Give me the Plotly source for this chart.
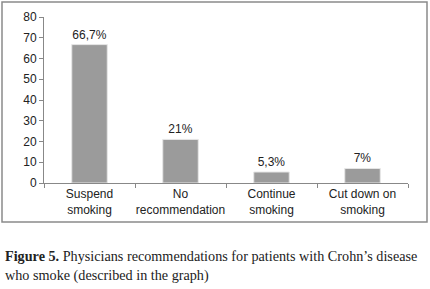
import plotly.graph_objects as go

categories = ["Suspend<br>smoking", "No<br>recommendation", "Continue<br>smoking", "Cut down on<br>smoking"]
values = [66.7, 21, 5.3, 7]
value_labels = ["66,7%", "21%", "5,3%", "7%"]
y_ticks = [0, 10, 20, 30, 40, 50, 60, 70, 80]

W, H = 430, 289
L, R, T, B = 44, 22, 17, 106
pw, ph = W - L - R, H - T - B

def px(x):
    return (x - L) / pw

def py(y):
    return (H - B - y) / ph

fig = go.Figure(go.Bar(
    x=categories, y=values, text=value_labels, textposition="outside",
    textfont=dict(family="Liberation Sans, Arial", size=12, color="#222"),
    marker=dict(color="#9b9b9b", line=dict(color="#e6e6e6", width=1)),
    width=0.39, cliponaxis=False,
))

fig.update_layout(
    width=W, height=H, margin=dict(l=L, r=R, t=T, b=B, autoexpand=False),
    paper_bgcolor="white", plot_bgcolor="white", showlegend=False,
    font=dict(family="Liberation Sans, Arial", size=12, color="#222"),
    xaxis=dict(showgrid=False, showline=True, linecolor="#888", linewidth=1,
               ticks="outside", tickson="boundaries", ticklen=4, tickcolor="#888",
               tickangle=0, automargin=False,
               tickfont=dict(size=12, color="#222")),
    yaxis=dict(range=[0, 80], tickvals=y_ticks, showgrid=False, zeroline=False,
               showline=True, linecolor="#888", linewidth=1, automargin=False,
               ticks="outside", ticklen=4, tickcolor="#888",
               tickfont=dict(size=12, color="#222")),
    shapes=[dict(type="rect", xref="paper", yref="paper",
                 x0=px(2), x1=px(427), y0=py(2), y1=py(222),
                 line=dict(color="#8a8a8a", width=1.5), layer="below")],
    annotations=[
        dict(xref="paper", yref="paper", x=px(3), y=py(256), xanchor="left", yanchor="middle",
             showarrow=False, align="left",
             text="<b>Figure 5.</b> Physicians recommendations for patients with Crohn’s disease",
             font=dict(family="Liberation Serif, Times New Roman", size=14.2, color="#222")),
        dict(xref="paper", yref="paper", x=px(3), y=py(275), xanchor="left", yanchor="middle",
             showarrow=False, align="left",
             text="who smoke (described in the graph)",
             font=dict(family="Liberation Serif, Times New Roman", size=14.2, color="#222")),
    ],
)

fig.write_html("out.html", config={"displayModeBar": False},
               post_script="document.body.style.margin='0';")
